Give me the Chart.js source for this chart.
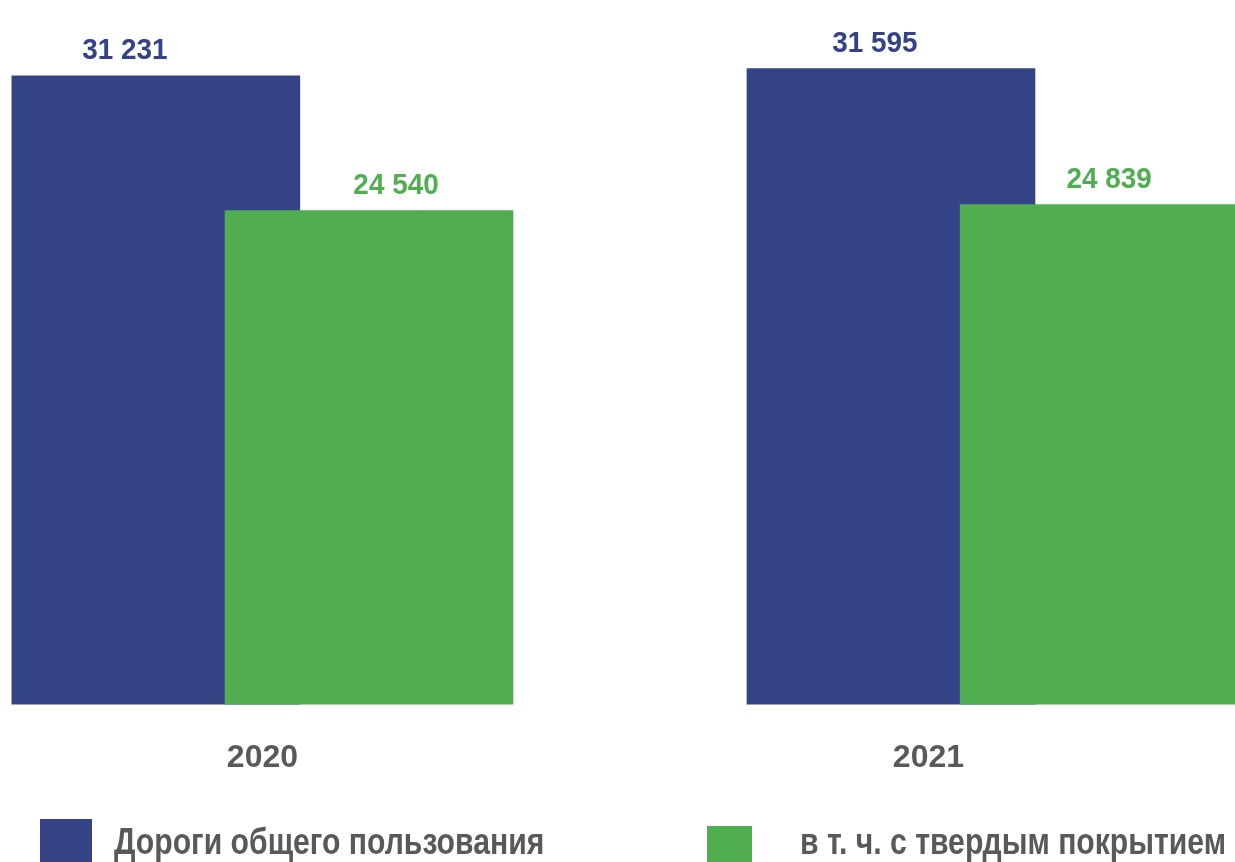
<!DOCTYPE html>
<html lang="ru">
<head>
<meta charset="utf-8">
<script src="https://cdn.jsdelivr.net/npm/chart.js@4/dist/chart.umd.min.js"></script>
<style>
    body { margin: 0; background: #fff; }
    #wrap { width: 1235px; height: 862px; position: relative; overflow: hidden; }
    .legend-item { position: absolute; display: flex; align-items: flex-start; line-height: 46px;
        font: bold 37px "Liberation Sans", Arial, sans-serif; color: #595959; white-space: nowrap; }
    .legend-item span { display: inline-block; }
    .legend-text { padding-top: 2px; transform: scaleX(0.815); transform-origin: left top; }
</style>
</head>
<body>
<div id="wrap">
    <canvas id="roadsChart"></canvas>
    <div id="legend"></div>
</div>
<script>
// Данные
const years = ['2020', '2021'];
const roadsTotal = [31231, 31595];
const roadsPaved = [24540, 24839];
const seriesNames = ['Дороги общего пользования', 'в т. ч. с твердым покрытием'];

const blue = '#344286';
const green = '#50ae50';
const gray = '#595959';
const fontFamily = '"Liberation Sans", Arial, sans-serif';

// смещение столбцов внутри года (столбцы перекрываются)
const shift = 0.145;
// сдвиг подписей относительно центра столбца, px [серия][год]
const labelShift = [[-31, -16], [27, 5]];

function fmt(v) {
    return String(v).replace(/\B(?=(\d{3})+(?!\d))/g, ' ');
}

// Подписи значений над столбцами
const valueLabels = {
    id: 'valueLabels',
    afterDatasetsDraw(chart) {
        const ctx = chart.ctx;
        chart.data.datasets.forEach((ds, i) => {
            const meta = chart.getDatasetMeta(i);
            meta.data.forEach((bar, j) => {
                ctx.save();
                ctx.translate(bar.x + labelShift[i][j], bar.y - 17);
                ctx.scale(0.93, 1);
                ctx.font = 'bold 30px ' + fontFamily;
                ctx.textAlign = 'center';
                ctx.textBaseline = 'alphabetic';
                ctx.fillStyle = ds.backgroundColor;
                ctx.fillText(fmt(ds.data[j].y), 0, 0);
                ctx.restore();
            });
        });
    }
};

const ctx = document.getElementById('roadsChart').getContext('2d');
const chart = new Chart(ctx, {
    type: 'bar',
    data: {
        datasets: [{
            label: seriesNames[0],
            data: roadsTotal.map((v, i) => ({ x: i - shift, y: v })),
            backgroundColor: blue,
            barThickness: 288,
            grouped: false,
            order: 1
        }, {
            label: seriesNames[1],
            data: roadsPaved.map((v, i) => ({ x: i + shift, y: v })),
            backgroundColor: green,
            barThickness: 288,
            grouped: false,
            order: 0
        }]
    },
    options: {
        responsive: true,
        maintainAspectRatio: false,
        animation: false,
        layout: { padding: { left: 0, right: 0, top: 0, bottom: 59 } },
        plugins: {
            legend: { display: false },
            tooltip: { enabled: false }
        },
        scales: {
            x: {
                type: 'linear',
                offset: false,
                min: -0.357,
                max: 1.323,
                grid: { display: false },
                border: { display: false },
                afterBuildTicks: axis => {
                    axis.ticks = [{ value: 0 }, { value: 0.906 }];
                },
                ticks: {
                    padding: 26,
                    maxRotation: 0,
                    autoSkip: false,
                    color: gray,
                    font: { family: fontFamily, size: 32, weight: 'bold' },
                    callback: (v, idx) => years[idx]
                }
            },
            y: {
                display: false,
                min: 0,
                max: 35000
            }
        }
    },
    plugins: [valueLabels]
});

// Легенда
const legendPos = [
    { left: 40, box: 52, dy: 0, gap: 22 },
    { left: 707, box: 45, dy: 7, gap: 48 }
];
const legendEl = document.getElementById('legend');
chart.data.datasets.forEach((ds, i) => {
    const p = legendPos[i];
    const item = document.createElement('div');
    item.className = 'legend-item';
    item.style.left = p.left + 'px';
    item.style.top = '819px';
    const box = document.createElement('span');
    box.style.width = p.box + 'px';
    box.style.height = '46px';
    box.style.marginTop = p.dy + 'px';
    box.style.background = ds.backgroundColor;
    box.style.marginRight = p.gap + 'px';
    const text = document.createElement('span');
    text.className = 'legend-text';
    text.textContent = ds.label;
    item.appendChild(box);
    item.appendChild(text);
    legendEl.appendChild(item);
});
</script>
</body>
</html>
